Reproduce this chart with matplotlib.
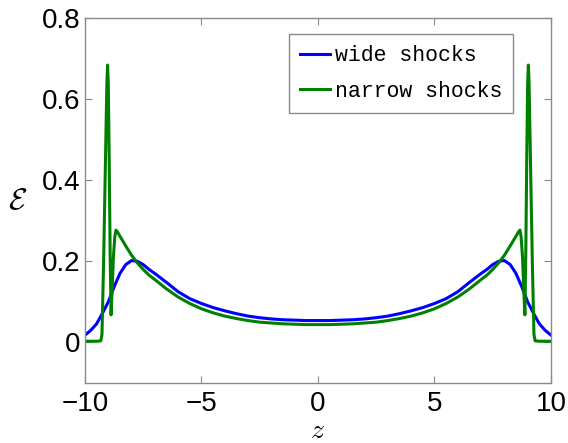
import matplotlib
matplotlib.use("Agg")
import matplotlib.pyplot as plt

plt.rcParams['mathtext.fontset'] = 'cm'

# wide shocks (blue)
z_wide = [-10.0, -9.75, -9.5, -9.25, -9.0, -8.75, -8.5, -8.25, -8.0, -7.75, -7.5, -7.25,
          -7.0, -6.5, -6.0, -5.5, -5.0, -4.5, -4.0, -3.5, -3.0, -2.5, -2.0, -1.5, -1.0,
          -0.5, 0.0, 0.5, 1.0, 1.5, 2.0, 2.5, 3.0, 3.5, 4.0, 4.5, 5.0, 5.5, 6.0, 6.5,
          7.0, 7.25, 7.5, 7.75, 8.0, 8.25, 8.5, 8.75, 9.0, 9.25, 9.5, 9.75, 10.0]
e_wide = [0.018, 0.030, 0.046, 0.072, 0.100, 0.137, 0.170, 0.192, 0.202, 0.200, 0.192, 0.180,
          0.170, 0.148, 0.125, 0.108, 0.096, 0.086, 0.078, 0.071, 0.065, 0.061, 0.058, 0.056, 0.055,
          0.054, 0.054, 0.054, 0.055, 0.056, 0.058, 0.061, 0.065, 0.071, 0.078, 0.086, 0.096, 0.108, 0.125, 0.148,
          0.170, 0.180, 0.192, 0.200, 0.202, 0.192, 0.170, 0.137, 0.100, 0.072, 0.046, 0.030, 0.018]

# narrow shocks (green)
z_narrow = [-10.0, -9.5, -9.32, -9.27, -9.2, -9.12, -9.06, -9.03, -9.0, -8.96, -8.92, -8.88,
            -8.84, -8.78, -8.72, -8.67, -8.6, -8.5, -8.25, -8.0, -7.75, -7.5, -7.25, -7.0,
            -6.5, -6.0, -5.5, -5.0, -4.5, -4.0, -3.5, -3.0, -2.5, -2.0, -1.5, -1.0, -0.5,
            0.0, 0.5, 1.0, 1.5, 2.0, 2.5, 3.0, 3.5, 4.0, 4.5, 5.0, 5.5, 6.0, 6.5,
            7.0, 7.25, 7.5, 7.75, 8.0, 8.25, 8.5, 8.6, 8.67, 8.72, 8.78, 8.84, 8.88,
            8.92, 8.96, 9.0, 9.03, 9.06, 9.12, 9.2, 9.27, 9.32, 9.5, 10.0]
e_narrow = [0.003, 0.003, 0.004, 0.020, 0.200, 0.450, 0.640, 0.684, 0.640, 0.450, 0.220, 0.068,
            0.120, 0.210, 0.260, 0.277, 0.272, 0.262, 0.238, 0.215, 0.196, 0.180, 0.166, 0.155,
            0.132, 0.112, 0.096, 0.083, 0.073, 0.065, 0.059, 0.054, 0.050, 0.048, 0.046, 0.045, 0.044,
            0.044, 0.044, 0.045, 0.046, 0.048, 0.050, 0.054, 0.059, 0.065, 0.073, 0.083, 0.096, 0.112, 0.132,
            0.155, 0.166, 0.180, 0.196, 0.215, 0.238, 0.262, 0.272, 0.277, 0.260, 0.210, 0.120, 0.068,
            0.220, 0.450, 0.640, 0.684, 0.640, 0.450, 0.200, 0.020, 0.004, 0.003, 0.003]

x_ticks = [-10, -5, 0, 5, 10]
x_tick_labels = ['\u221210', '\u22125', '0', '5', '10']
y_ticks = [0, 0.2, 0.4, 0.6, 0.8]
y_tick_labels = ['0', '0.2', '0.4', '0.6', '0.8']

fig = plt.figure(figsize=(5.68, 4.43), dpi=100)
ax = fig.add_axes([0.1496, 0.1354, 0.8204, 0.824])

ax.plot(z_wide, e_wide, color=(0, 0, 1), lw=2.2, label='wide shocks')
ax.plot(z_narrow, e_narrow, color=(0, 0.5, 0), lw=2.2, label='narrow shocks')

ax.set_xlim(-10, 10)
ax.set_ylim(-0.1, 0.8)
ax.set_xticks(x_ticks)
ax.set_xticklabels(x_tick_labels)
ax.set_yticks(y_ticks)
ax.set_yticklabels(y_tick_labels)

for s in ax.spines.values():
    s.set_color('#8a8a8a')
    s.set_linewidth(1.0)
ax.tick_params(direction='in', length=5, color='#8a8a8a', top=True, right=True,
               labelsize=20)
ax.tick_params(axis='x', pad=6)
ax.tick_params(axis='y', pad=3)
for lab in ax.get_xticklabels() + ax.get_yticklabels():
    lab.set_family('Liberation Sans')

ax.set_xlabel('$z$', fontsize=20, va='center')
ax.xaxis.set_label_coords(0.5, -0.128)
ax.set_ylabel(r'$\mathcal{E}$', fontsize=22, rotation=0, labelpad=18, va='center')

leg = ax.legend(loc='upper right', bbox_to_anchor=(0.918, 0.955), fancybox=False,
                framealpha=1, edgecolor='#8a8a8a', prop={'family': 'Liberation Mono', 'size': 15.5},
                handlelength=1.4, handletextpad=0.2, borderpad=0.5, labelspacing=0.68,
                borderaxespad=0)
leg.get_frame().set_linewidth(1.0)

fig.savefig('out.png', dpi=100)
